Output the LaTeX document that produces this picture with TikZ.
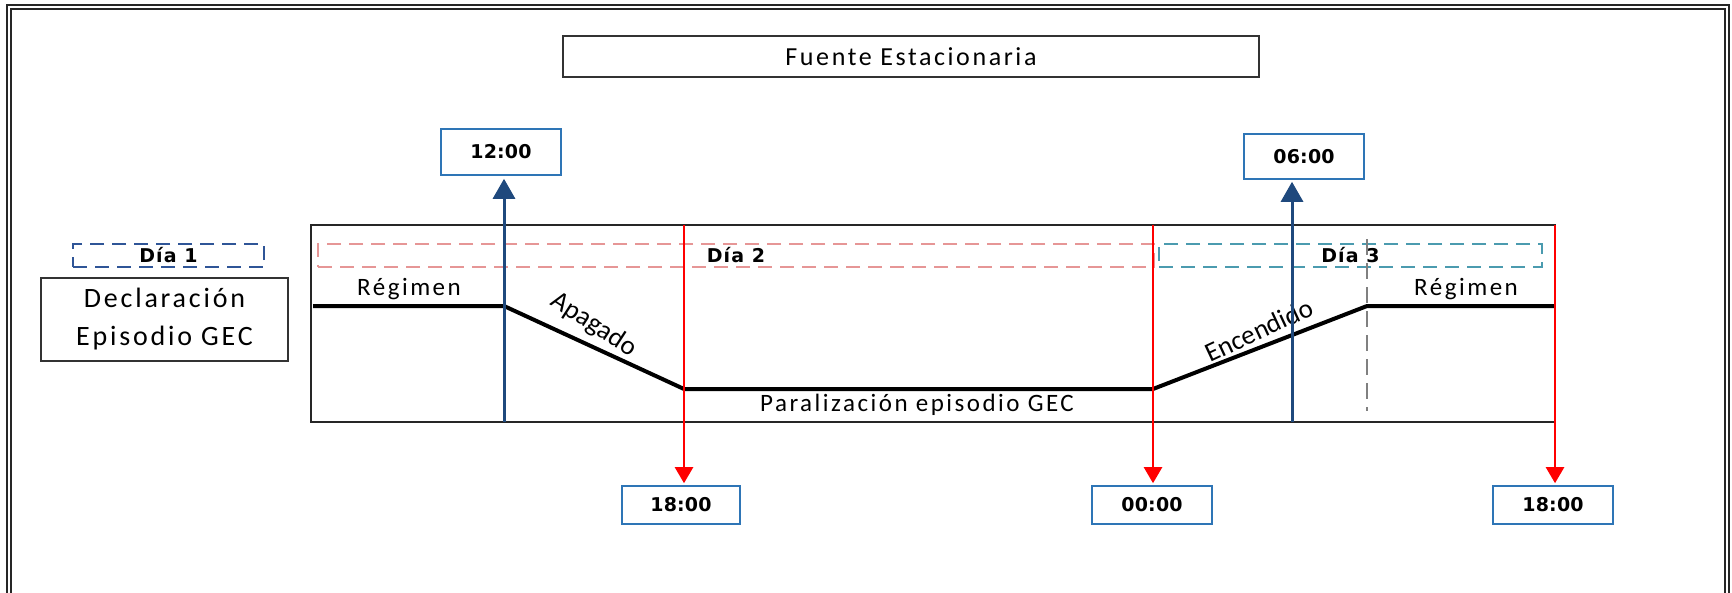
\documentclass[tikz,border=0pt]{standalone}
\usepackage{fontspec}
\setmainfont{Carlito}
\newfontfamily\lblfont{Carlito}[LetterSpace=10]
\newfontfamily\timefont{DejaVu Sans}[LetterSpace=1]
\newfontfamily\dayfont{DejaVu Sans}[LetterSpace=6]
\usetikzlibrary{arrows.meta,calc}
\definecolor{darkblue}{RGB}{31,73,125}
\definecolor{boxblue}{RGB}{46,117,182}
\definecolor{dayred}{RGB}{230,150,150}
\definecolor{dayteal}{RGB}{75,155,175}
\definecolor{dayblue}{RGB}{47,85,151}
\tikzset{
  plainbox/.style={draw=black!80, line width=0.8pt, inner sep=0pt, align=center, font=\lblfont\fontsize{13}{15}\selectfont},
  timebox/.style={draw=boxblue, line width=0.8pt, inner sep=0pt, font=\timefont\bfseries\fontsize{9.5}{11}\selectfont},
  daybox/.style={dashed, dash pattern=on 7pt off 4pt, line width=0.8pt, inner sep=0pt, font=\dayfont\bfseries\fontsize{9.5}{11}\selectfont},
  lbl/.style={font=\lblfont\fontsize{12.5}{14}\selectfont, inner sep=0pt},
  rotlbl/.style={font=\rmfamily\fontsize{13.5}{15}\selectfont, inner sep=0pt},
  bluearrow/.style={draw=darkblue, line width=1.5pt, -{Triangle[width=11pt,length=10pt]}},
  redarrow/.style={draw=red, line width=1.2pt, -{Triangle[width=9pt,length=8pt]}},
  profile/.style={draw=black, line width=2pt}
}
\begin{document}
\begin{tikzpicture}[x=0.5pt,y=-0.5pt]
\useasboundingbox (0,0) rectangle (1732,593);
\fill[white] (0,0) rectangle (1732,593);
% outer frame
\draw[black!85, line width=0.7pt, double, double distance=1.3pt] (9,700) -- (9,7) -- (1727,7) -- (1727,700);
% title
\node[plainbox, minimum width=348pt, minimum height=20.5pt] (title) at (911,56.5) {Fuente Estacionaria};
% left boxes
\node[daybox, draw=dayblue, minimum width=95.5pt, minimum height=11.5pt] (d1) at (168.5,255.5) {Día 1};
\node[plainbox, minimum width=123.5pt, minimum height=41.5pt, font=\lblfont\fontsize{14}{19}\selectfont] (decl) at (164.5,319.5) {Declaración\\Episodio GEC};
% main rectangle
\draw[black!85, line width=0.8pt] (311,225) rectangle (1555,422);
\node[daybox, draw=dayred, minimum width=418pt, minimum height=11.5pt] (d2) at (736,255.5) {Día 2};
\node[daybox, draw=dayteal, minimum width=191.5pt, minimum height=11.5pt] (d3) at (1350.5,255.5) {Día 3};
% gray dashed vertical
\coordinate (g1) at (1367,239);
\coordinate (g2) at (1367,411);
\draw[gray, line width=0.7pt, dash pattern=on 8pt off 4pt] (g1) -- (g2);
% profile
\coordinate (p0) at (313,306);
\coordinate (p1) at (504,306);
\coordinate (p2) at (684,389);
\coordinate (p3) at (1153,389);
\coordinate (p4) at (1367,306);
\coordinate (p5) at (1555,306);
\draw[profile] (p0) -- (p1) -- (p2) -- (p3) -- (p4) -- (p5);
% labels
\node[lbl] (reg1) at (409,289) {Régimen};
\node[lbl] (reg2) at (1466,289) {Régimen};
\node[rotlbl, rotate=-33] (apag) at (594,325) {Apagado};
\node[rotlbl, rotate=25] (enc) at (1259,330) {Encendido};
\node[lbl] (par) at (917,405) {Paralización episodio GEC};
% time boxes
\node[timebox, minimum width=60pt, minimum height=23pt] (t12) at (501,152) {12:00};
\node[timebox, minimum width=60pt, minimum height=22.5pt] (t06) at (1304,156.5) {06:00};
\node[timebox, minimum width=59pt, minimum height=19pt] (t18a) at (681,505) {18:00};
\node[timebox, minimum width=60pt, minimum height=19pt] (t00) at (1152,505) {00:00};
\node[timebox, minimum width=60pt, minimum height=19pt] (t18b) at (1553,505) {18:00};
% blue arrows
\coordinate (b1) at (504,422);
\coordinate (b2) at (1292,422);
\draw[bluearrow, shorten >=1.5pt] (b1) -- (b1 |- t12.south);
\draw[bluearrow, shorten >=1pt] (b2) -- (b2 |- t06.south);
% red arrows
\coordinate (r1) at (684,225);
\coordinate (r2) at (1153,225);
\coordinate (r3) at (1555,225);
\draw[redarrow, shorten >=1pt] (r1) -- (r1 |- t18a.north);
\draw[redarrow, shorten >=1pt] (r2) -- (r2 |- t00.north);
\draw[redarrow, shorten >=1pt] (r3) -- (r3 |- t18b.north);
\end{tikzpicture}
\end{document}
